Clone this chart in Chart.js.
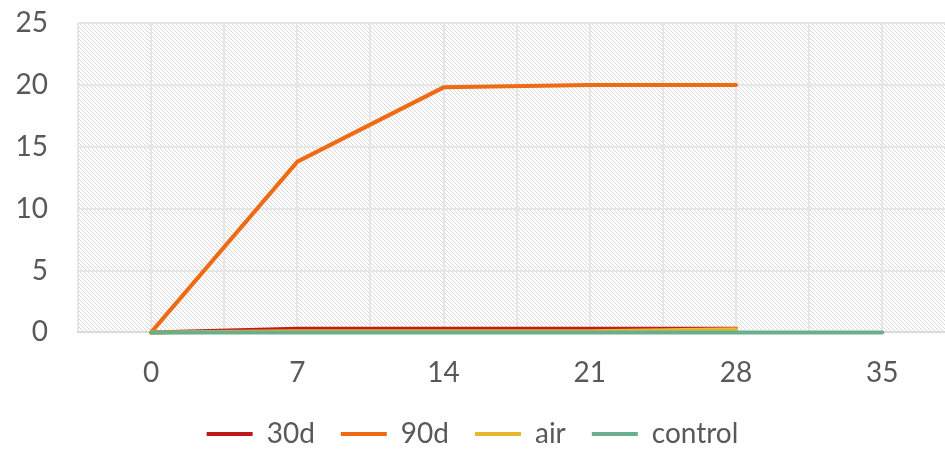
<!DOCTYPE html>
<html>
<head>
<meta charset="utf-8">
<script src="https://cdn.jsdelivr.net/npm/chart.js@4/dist/chart.umd.min.js"></script>
<style>
	html, body { margin: 0; padding: 0; background: #fff; }
	#wrap { width: 945px; height: 449px; }
</style>
</head>
<body>
<div id="wrap"><canvas id="mycanvas" width="945" height="449"></canvas></div>
<script>
var days = [0, 7, 14, 21, 28];
var controlDays = [0, 7, 14, 21, 28, 35];
var d30 = [0, 0.3, 0.3, 0.3, 0.3];
var d90 = [0, 13.8, 19.8, 20, 20];
var air = [0, 0.1, 0.1, 0.1, 0.25];
var control = [0, 0, 0, 0, 0, 0];
var yTicks = [0, 5, 10, 15, 20, 25];

function pts(xs, ys) {
	var out = [];
	for (var i in ys) out.push({x: xs[i], y: ys[i]});
	return out;
}

// diagonal hatch behind the plot area
function makeHatch() {
	var c = document.createElement('canvas');
	c.width = 4; c.height = 4;
	var g = c.getContext('2d');
	g.fillStyle = '#ffffff';
	g.fillRect(0, 0, 4, 4);
	g.fillStyle = '#d9d9d9';
	for (var i = 0; i < 4; i++) g.fillRect(i, i, 1, 1);
	return g.createPattern(c, 'repeat');
}

var hatchPlugin = {
	id: 'hatch',
	beforeDraw: function(chart) {
		var a = chart.chartArea, ctx = chart.ctx;
		ctx.save();
		ctx.fillStyle = makeHatch();
		ctx.fillRect(a.left, a.top, a.right - a.left, a.bottom - a.top);
		ctx.restore();
	}
};

// wide gaps between legend items without the extra vertical room
var LEG_SHRINK = 20;
var legendFix = {
	id: 'legendFix',
	afterInit: function(chart) {
		var lg = chart.legend, fit = lg.fit;
		lg.fit = function() {
			fit.call(this);
			this.height -= LEG_SHRINK;
		};
	},
	afterLayout: function(chart) {
		chart.legend.top -= LEG_SHRINK;
	}
};

var font = {family: 'Lato, "Noto Sans", sans-serif', size: 28};

// order: lower number is drawn on top (control last, like the original)
var chartdata = {
	datasets: [
		{label: '30d', data: pts(days, d30), borderColor: '#BE1A1A', backgroundColor: '#BE1A1A', borderWidth: 4, order: 4, clip: false},
		{label: '90d', data: pts(days, d90), borderColor: '#EE6A14', backgroundColor: '#EE6A14', borderWidth: 4, order: 3, clip: false},
		{label: 'air', data: pts(days, air), borderColor: '#E8B52E', backgroundColor: '#E8B52E', borderWidth: 4, order: 2, clip: false},
		{label: 'control', data: pts(controlDays, control), borderColor: '#6AAF8D', backgroundColor: '#6AAF8D', borderWidth: 4, order: 1, clip: false}
	]
};

var ctx = document.getElementById('mycanvas');
var lineGraph = new Chart(ctx, {
	type: 'line',
	data: chartdata,
	plugins: [hatchPlugin, legendFix],
	options: {
		responsive: false,
		animation: false,
		layout: {padding: {top: 23, right: 0, left: 0, bottom: -9}},
		elements: {
			line: {tension: 0, borderCapStyle: 'round'},
			point: {radius: 0}
		},
		scales: {
			x: {
				type: 'linear',
				min: -3.5,
				max: 38,
				border: {display: true, color: '#d9d9d9', width: 2},
				grid: {color: '#e6e6e6', lineWidth: 2, drawTicks: false},
				afterBuildTicks: function(scale) {
					var t = [];
					for (var v = -3.5; v <= 38; v += 3.5) t.push({value: v});
					scale.ticks = t;
				},
				afterFit: function(scale) { scale.paddingLeft = 0; scale.paddingRight = 0; },
				ticks: {
					font: font, color: '#595959', padding: 24,
					maxRotation: 0, autoSkip: false,
					callback: function(v) { return (v >= 0 && v % 7 === 0) ? v : ''; }
				}
			},
			y: {
				min: 0, max: 25,
				border: {display: false},
				grid: {color: '#e6e6e6', lineWidth: 2, drawTicks: false},
				afterBuildTicks: function(scale) {
					scale.ticks = yTicks.map(function(v) { return {value: v}; });
				},
				afterFit: function(scale) {
					scale.width = 78;
					scale.paddingTop = 0;
					scale.paddingBottom = 0;
				},
				ticks: {font: font, color: '#595959', padding: 30}
			}
		},
		plugins: {
			tooltip: {enabled: false},
			legend: {
				position: 'bottom',
				labels: {
					font: font, color: '#595959',
					usePointStyle: true, pointStyle: 'line', pointStyleWidth: 46,
					boxHeight: 4, padding: 26,
					sort: function(a, b) { return a.datasetIndex - b.datasetIndex; }
				}
			}
		}
	}
});
</script>
</body>
</html>
